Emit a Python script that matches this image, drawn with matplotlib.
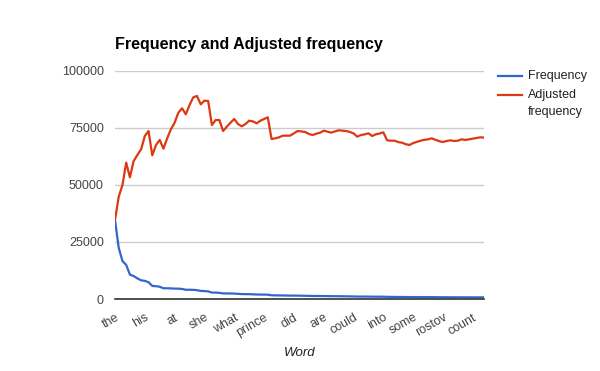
import numpy as np
import matplotlib
matplotlib.use('Agg')
import matplotlib.pyplot as plt
from matplotlib.lines import Line2D

plt.rcParams['font.family'] = ['Liberation Sans', 'DejaVu Sans']

# words shown on the x axis (every 8th word of the 100 plotted)
words = ['the', 'his', 'at', 'she', 'what', 'prince', 'did', 'are',
         'could', 'into', 'some', 'rostov', 'count']

frequency = [
    34650, 22435, 16667, 14950, 10674, 10083, 9023, 8205, 7944, 7370,
    5727, 5628, 5365, 4710, 4698, 4650, 4549, 4540, 4402, 4050,
    4052, 4020, 3871, 3558, 3480, 3340, 2827, 2804, 2707, 2456,
    2438, 2417, 2392, 2257, 2164, 2132, 2114, 2050, 1975, 1955,
    1926, 1897, 1632, 1602, 1576, 1557, 1524, 1493, 1483, 1474,
    1441, 1409, 1366, 1331, 1318, 1302, 1295, 1266, 1236, 1225,
    1213, 1191, 1170, 1145, 1118, 1079, 1074, 1062, 1053, 1021,
    1017, 1008, 1001, 941, 926, 914, 894, 879, 859, 844,
    844, 840, 837, 831, 824, 819, 802, 786, 774, 770,
    765, 753, 747, 745, 734, 730, 725, 721, 716, 708,
]

adjusted = [
    34650, 44870, 50000, 59800, 53370, 60500, 63160, 65640, 71500, 73700,
    63000, 67540, 69740, 65940, 70470, 74400, 77340, 81720, 83630, 81000,
    85090, 88450, 89040, 85380, 86990, 86840, 76320, 78500, 78500, 73680,
    75580, 77340, 78950, 76750, 75730, 76750, 78210, 77900, 77040, 78200,
    78950, 79680, 70180, 70470, 70910, 71640, 71640, 71640, 72660, 73680,
    73500, 73250, 72400, 71900, 72510, 72900, 73830, 73400, 72950, 73500,
    73980, 73830, 73680, 73250, 72660, 71200, 71930, 72200, 72660, 71500,
    72220, 72600, 73100, 69600, 69440, 69440, 68800, 68560, 67900, 67540,
    68400, 68900, 69440, 69800, 70040, 70470, 69800, 69200, 68860, 69300,
    69590, 69300, 69440, 70040, 69740, 70040, 70330, 70620, 70900, 70800,
]

blue = '#3366cc'
red = '#dc3912'
txt = '#444444'

fig = plt.figure(figsize=(6, 3.71), dpi=100)
ax = fig.add_axes([115 / 600, 1 - 299 / 371, 369 / 600, 228 / 371])

x = np.arange(len(frequency))
ax.plot(x, frequency, color=blue, lw=1.6, solid_joinstyle='round', zorder=3)
ax.plot(x, adjusted, color=red, lw=1.6, solid_joinstyle='round', zorder=3)

ax.set_xlim(0, len(frequency) - 1)
ax.set_ylim(0, 100000)
ax.set_yticks([0, 25000, 50000, 75000, 100000])
ax.set_yticklabels(['0', '25000', '50000', '75000', '100000'])
ax.yaxis.grid(True, color='#cccccc', lw=1)
ax.set_axisbelow(True)

ax.set_xticks(np.arange(0, len(frequency), 8))
ax.set_xticklabels(words, rotation=30, ha='right', rotation_mode='anchor')
ax.tick_params(axis='both', length=0, labelsize=9, colors=txt)
ax.tick_params(axis='y', pad=8)
ax.tick_params(axis='x', pad=9)

for s in ['top', 'right', 'left']:
    ax.spines[s].set_visible(False)
ax.spines['bottom'].set_color('#333333')
ax.spines['bottom'].set_linewidth(1.2)
ax.spines['bottom'].set_zorder(4)

ax.set_xlabel('Word', fontsize=9.5, style='italic', color='#222222', labelpad=6)

fig.text(115 / 600, 1 - 44 / 371, 'Frequency and Adjusted frequency',
         fontsize=11.5, fontweight='bold', color='black', va='center')

# legend on the right
fig.add_artist(Line2D([498 / 600, 522 / 600], [1 - 76 / 371] * 2, color=blue, lw=1.6))
fig.add_artist(Line2D([498 / 600, 522 / 600], [1 - 95 / 371] * 2, color=red, lw=1.6))
fig.text(528 / 600, 1 - 76 / 371, 'Frequency', fontsize=9, color='#222222', va='center')
fig.text(528 / 600, 1 - 95 / 371, 'Adjusted', fontsize=9, color='#222222', va='center')
fig.text(528 / 600, 1 - 112 / 371, 'frequency', fontsize=9, color='#222222', va='center')

fig.savefig('out.png', dpi=100)
